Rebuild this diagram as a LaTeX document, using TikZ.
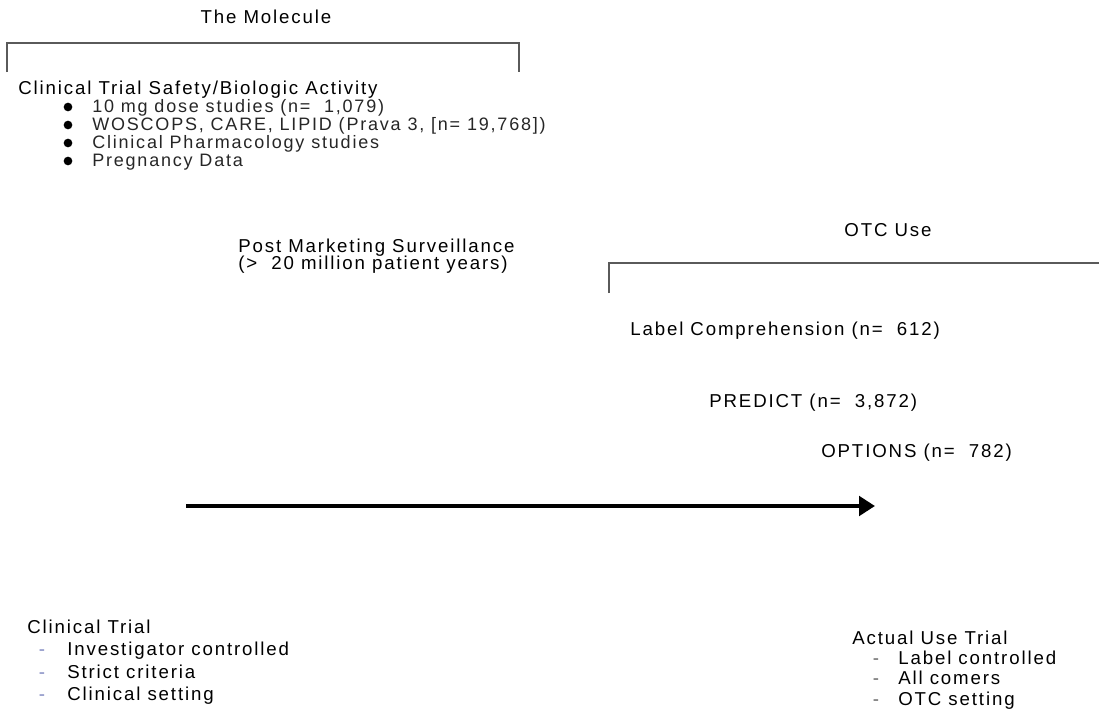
\documentclass[tikz,border=0pt]{standalone}
\usepackage{fontspec}
\setmainfont[LetterSpace=10]{Liberation Sans}
\usetikzlibrary{positioning,arrows.meta}

\definecolor{bracketgrey}{HTML}{5A5A5A}
\definecolor{dashblue}{HTML}{8088C0}

\begin{document}
\begin{tikzpicture}[
        x=0.75pt, y=-0.75pt,
        head/.style={inner sep=0pt, anchor=base west, font=\fontsize{14}{16}\selectfont},
        title/.style={inner sep=0pt, anchor=base, font=\fontsize{14}{16}\selectfont},
        item/.style={inner sep=0pt, anchor=base west, font=\fontsize{13.5}{16}\selectfont\color{black!85}},
        dot/.style={circle, fill=black, inner sep=0pt, minimum size=6.5pt},
        dashmark/.style={inner sep=0pt, anchor=base, font=\fontsize{14}{16}\selectfont},
        bracket/.style={draw=bracketgrey, line width=1.1pt},
        timeline/.style={line width=3.5pt, -{Triangle[length=12pt, width=14.5pt]}}
    ]
    \useasboundingbox (0,0) rectangle (1099,721);

    % --- The Molecule ---
    \node[title] (mol) at (266,23) {The Molecule};
    \draw[bracket] (7,72) -- (7,43) -- (519,43) -- (519,72);

    \node[head] (cts) at (18,94) {Clinical Trial Safety/Biologic Activity};
    \node[dot] (b1) at (68,107) {};
    \node[item] (i1) at (92,112) {10 mg dose studies (n=\ \ 1,079)};
    \node[dot] (b2) at (68,125) {};
    \node[item] (i2) at (92,130) {WOSCOPS, CARE, LIPID (Prava 3, [n= 19,768])};
    \node[dot] (b3) at (68,143) {};
    \node[item] (i3) at (92,148) {Clinical Pharmacology studies};
    \node[dot] (b4) at (68,161) {};
    \node[item] (i4) at (92,166) {Pregnancy Data};

    \node[head] (pms) at (238,252) {Post Marketing Surveillance};
    \node[head] (pmy) at (238,269) {(>\ \ 20 million patient years)};

    % --- OTC Use ---
    \node[title] (otc) at (888,236) {OTC Use};
    \draw[bracket] (609,293) -- (609,263) -- (1099,263);

    \node[head] (lab) at (630,335) {Label Comprehension (n=\ \ 612)};
    \node[head] (pre) at (709,407) {PREDICT (n=\ \ 3,872)};
    \node[head] (opt) at (821,457) {OPTIONS (n=\ \ 782)};

    % --- Timeline ---
    \coordinate (tstart) at (186,506);
    \coordinate (tend) at (875,506);
    \draw[timeline] (tstart) -- (tend);

    % --- Clinical Trial ---
    \node[head] (ct) at (27,633) {Clinical Trial};
    \node[dashmark, text=dashblue] (d1) at (42,655) {-};
    \node[head] (ct1) at (67,655) {Investigator controlled};
    \node[dashmark, text=dashblue] (d2) at (42,678) {-};
    \node[head] (ct2) at (67,678) {Strict criteria};
    \node[dashmark, text=dashblue] (d3) at (42,700) {-};
    \node[head] (ct3) at (67,700) {Clinical setting};

    % --- Actual Use Trial ---
    \node[head] (aut) at (852,644) {Actual Use Trial};
    \node[dashmark, text=black!60] (e1) at (876,664) {-};
    \node[head] (au1) at (898,664) {Label controlled};
    \node[dashmark, text=black!60] (e2) at (876,684) {-};
    \node[head] (au2) at (898,684) {All comers};
    \node[dashmark, text=black!60] (e3) at (876,705) {-};
    \node[head] (au3) at (898,705) {OTC setting};

\end{tikzpicture}
\end{document}
